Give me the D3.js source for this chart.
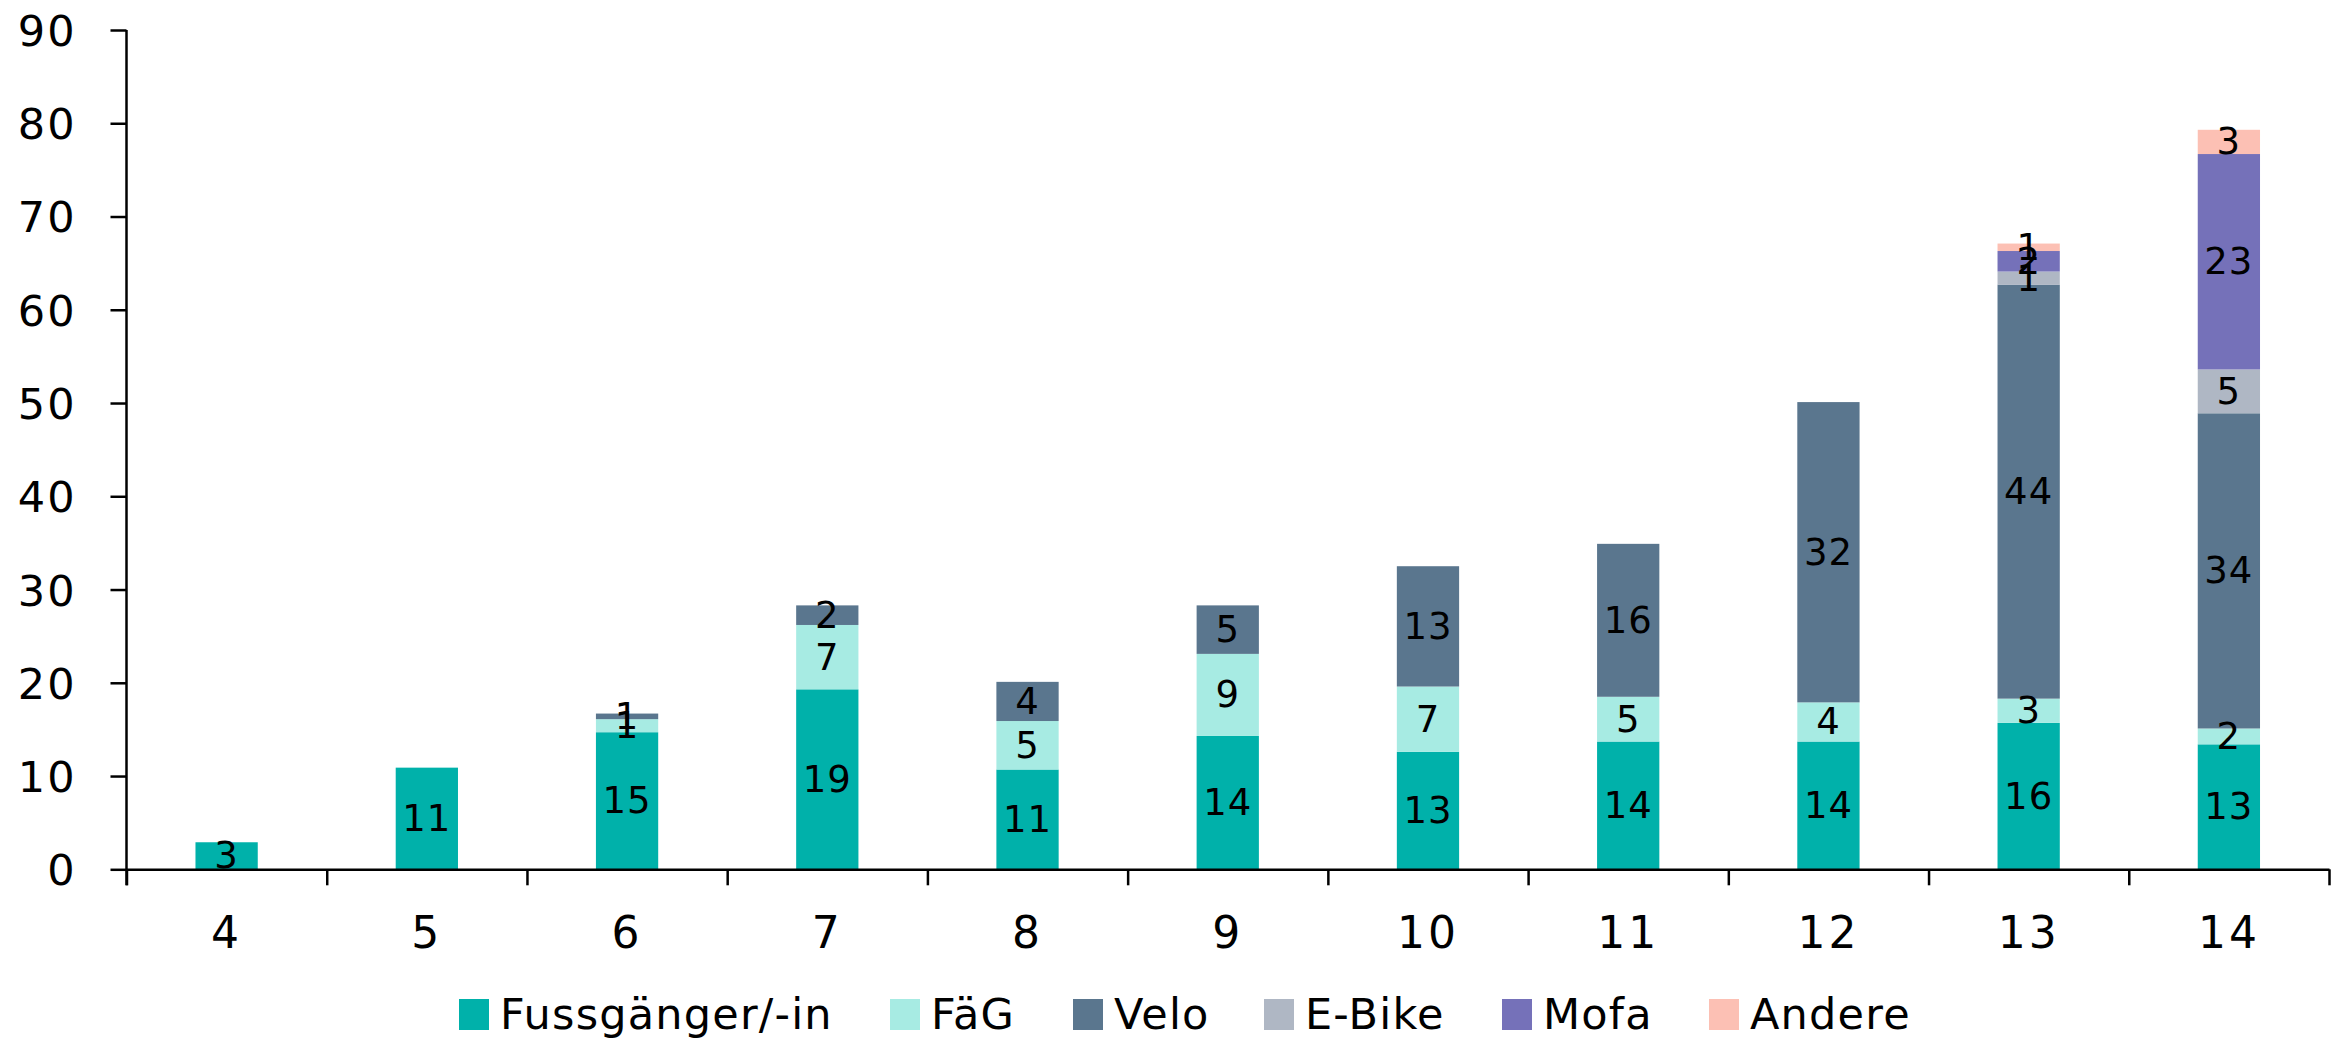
<!DOCTYPE html>
<html>
<head>
<meta charset="utf-8">
<script src="https://cdn.jsdelivr.net/npm/d3@7"></script>
<style>
  html, body { margin: 0; padding: 0; background: #fff; }
  svg { display: block; }
  text { font-family: "DejaVu Sans", sans-serif; fill: #000; }
</style>
</head>
<body>
<svg id="chart" width="2338" height="1042"></svg>
<script>
// Age (years) on the x axis
const categories = ["4", "5", "6", "7", "8", "9", "10", "11", "12", "13", "14"];

// Series names, in stacking order (bottom to top)
const seriesNames = ["Fussgänger/-in", "FäG", "Velo", "E-Bike", "Mofa", "Andere"];

// Values per age group
const fussgaenger = [2.9, 10.9, 14.7, 19.3, 10.7, 14.3, 12.6, 13.7, 13.7, 15.7, 13.4];
const faeg        = [0, 0, 1.4, 6.9, 5.2, 8.8, 7.0, 4.8, 4.2, 2.6, 1.7];
const velo        = [0, 0, 0.6, 2.1, 4.2, 5.2, 12.9, 16.4, 32.2, 44.4, 33.8];
const ebike       = [0, 0, 0, 0, 0, 0, 0, 0, 0, 1.4, 4.7];
const mofa        = [0, 0, 0, 0, 0, 0, 0, 0, 0, 2.2, 23.1];
const andere      = [0, 0, 0, 0, 0, 0, 0, 0, 0, 0.8, 2.6];

// Y axis tick values
const yTicks = [0, 10, 20, 30, 40, 50, 60, 70, 80, 90];

const colors = ["#00b1aa", "#a7ebe3", "#5a768e", "#afb7c4", "#7571b9", "#fcc0b4"];

const seriesValues = [fussgaenger, faeg, velo, ebike, mofa, andere];
const rows = categories.map((c, i) => {
  const r = { cat: c };
  seriesNames.forEach((s, k) => { r[s] = seriesValues[k][i]; });
  return r;
});

const svg = d3.select("#chart");
const plotLeft = 126.5, plotRight = 2329, plotTop = 30, plotBottom = 869.3;

const x = d3.scaleBand()
  .domain(categories)
  .range([plotLeft, plotRight])
  .paddingInner(0.689)
  .paddingOuter(0.689 / 2);

const y = d3.scaleLinear().domain([0, 90]).range([plotBottom, plotTop]);

const layers = d3.stack().keys(seriesNames)(rows);

// Stacked bars
const g = svg.append("g");
layers.forEach((layer, k) => {
  g.append("g")
    .attr("fill", colors[k])
    .selectAll("rect")
    .data(layer.filter(d => d[1] - d[0] > 0))
    .join("rect")
    .attr("x", d => x(d.data.cat))
    .attr("width", x.bandwidth())
    .attr("y", d => y(d[1]))
    .attr("height", d => y(d[0]) - y(d[1]));
});

// Segment value labels, centred in each segment
const fmt = d3.format(".0f");
layers.forEach((layer, k) => {
  g.append("g")
    .selectAll("text")
    .data(layer.filter(d => d[1] - d[0] > 0))
    .join("text")
    .attr("x", d => x(d.data.cat) + x.bandwidth() / 2)
    .attr("y", d => y((d[0] + d[1]) / 2))
    .attr("text-anchor", "middle")
    .attr("dominant-baseline", "central")
    .style("font-size", "37px")
    .style("letter-spacing", "1px")
    .text(d => fmt(d[1] - d[0]));
});

// Y axis
const yAxis = svg.append("g")
  .attr("transform", `translate(${plotLeft},0)`)
  .call(d3.axisLeft(y).tickValues(yTicks).tickSize(16).tickPadding(34).tickFormat(d3.format("d")));
yAxis.select(".domain").attr("stroke", "#000").attr("stroke-width", 2.5)
  .attr("d", `M0,${plotTop}V${plotBottom + 16}`);
yAxis.selectAll(".tick line").attr("stroke", "#000").attr("stroke-width", 2.5);
yAxis.selectAll(".tick text").style("font-size", "43px").style("letter-spacing", "2px").attr("dy", "0.36em");

// X axis: boundary ticks between categories
const xEdges = d3.scaleLinear().domain([0, categories.length]).range([plotLeft, plotRight]);
const xTickAxis = svg.append("g")
  .attr("transform", `translate(0,${plotBottom})`)
  .call(d3.axisBottom(xEdges).ticks(categories.length).tickSize(16).tickSizeOuter(0).tickFormat(""));
xTickAxis.select(".domain").attr("stroke", "#000").attr("stroke-width", 2.5);
xTickAxis.selectAll(".tick line").attr("stroke", "#000").attr("stroke-width", 2.5);

// X axis: category labels centred under bars
const xLabelAxis = svg.append("g")
  .attr("transform", `translate(0,${plotBottom})`)
  .call(d3.axisBottom(x).tickSize(0).tickPadding(47));
xLabelAxis.select(".domain").remove();
xLabelAxis.selectAll(".tick text").style("font-size", "44px").style("letter-spacing", "3px");

// Legend: swatch positions along the bottom row
const legendX = [459, 890, 1073, 1264, 1502, 1709];
const legend = svg.append("g");
seriesNames.forEach((name, k) => {
  legend.append("rect")
    .attr("x", legendX[k]).attr("y", 999)
    .attr("width", 30).attr("height", 31)
    .attr("fill", colors[k]);
  legend.append("text")
    .attr("x", legendX[k] + 41).attr("y", 1029)
    .style("font-size", "43px")
    .style("letter-spacing", "1.2px")
    .text(name);
});
</script>
</body>
</html>
